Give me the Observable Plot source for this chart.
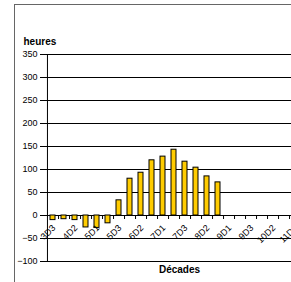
<!DOCTYPE html>
<html>
<head>
<meta charset="utf-8">
<script src="https://cdn.jsdelivr.net/npm/d3@7"></script>
<script src="https://cdn.jsdelivr.net/npm/@observablehq/plot@0.6"></script>
<style>
  html, body { margin: 0; padding: 0; overflow: hidden; background: white; width: 291px; height: 282px; }
  #wrap { position: relative; width: 291px; height: 282px; overflow: hidden; }
  #frame { position: absolute; left: 14px; top: 4px; width: 400px; height: 400px;
           border-left: 1px solid #666; border-top: 1px solid #666; pointer-events: none; }
  #chart svg { display: block; }
</style>
</head>
<body>
<div id="wrap"><div id="chart"></div><div id="frame"></div></div>
<script>
const categories = ["3D3","4D1","4D2","4D3","5D1","5D2","5D3","6D1","6D2","6D3","7D1","7D2","7D3","8D1","8D2","8D3","9D1","9D2","9D3","10D1","10D2","10D3","11D1","11D2"];
const values = [-10, -8, -10, -26, -27, -17, 33, 80, 93, 120, 128, 143, 117, 104, 85, 72];
const yTicks = [-100, -50, 0, 50, 100, 150, 200, 250, 300, 350];
const xLabels = categories.filter((d, i) => i % 2 === 0);
const yTitle = "heures";
const xTitle = "Décades";

const data = values.map((v, i) => ({cat: categories[i], value: v}));
const tickRows = categories.map(c => ({cat: c, top: 0, bottom: -8.7}));

const width = 316, marginLeft = 46, marginRight = 4;
const step = (width - marginLeft - marginRight) / categories.length;
const font = "'Liberation Sans', Arial, sans-serif";

const chart = Plot.plot({
  width,
  height: 282,
  marginLeft,
  marginRight,
  marginTop: 54,
  marginBottom: 21,
  style: {fontFamily: font, fontSize: "9px", color: "#000", background: "transparent", maxWidth: "none", overflow: "visible"},
  x: {type: "band", domain: categories, paddingInner: 0.55, paddingOuter: 0.275, axis: null},
  y: {domain: [-100, 350], axis: null},
  marks: [
    Plot.ruleY(yTicks, {stroke: "#000", strokeWidth: 1}),
    Plot.ruleX([categories[0]], {dx: -step / 2, y1: -100, y2: 350, stroke: "#000"}),
    Plot.ruleX(tickRows, {x: "cat", y1: "top", y2: "bottom", dx: step / 2, stroke: "#000", strokeWidth: 1}),
    Plot.barY(data, {x: "cat", y: "value", fill: "#FFCC00", stroke: "#000", strokeWidth: 1}),
    Plot.axisY(yTicks, {tickSize: 6, tickPadding: 3, fontSize: 9, stroke: "#000", label: null}),
    Plot.text(xLabels, {x: d => d, y: 0, text: d => d, rotate: -45, textAnchor: "end", dx: 1, dy: 11, fontSize: 9, fill: "#000"}),
    Plot.text([yTitle], {frameAnchor: "top-left", text: d => d, dx: -23, dy: -13, lineAnchor: "middle", textAnchor: "start", fontWeight: "bold", fontSize: 10, fill: "#000"}),
    Plot.text([xTitle], {frameAnchor: "bottom", text: d => d, dy: 8, lineAnchor: "middle", fontWeight: "bold", fontSize: 10, fill: "#000"})
  ]
});
document.getElementById("chart").appendChild(chart);
</script>
</body>
</html>
